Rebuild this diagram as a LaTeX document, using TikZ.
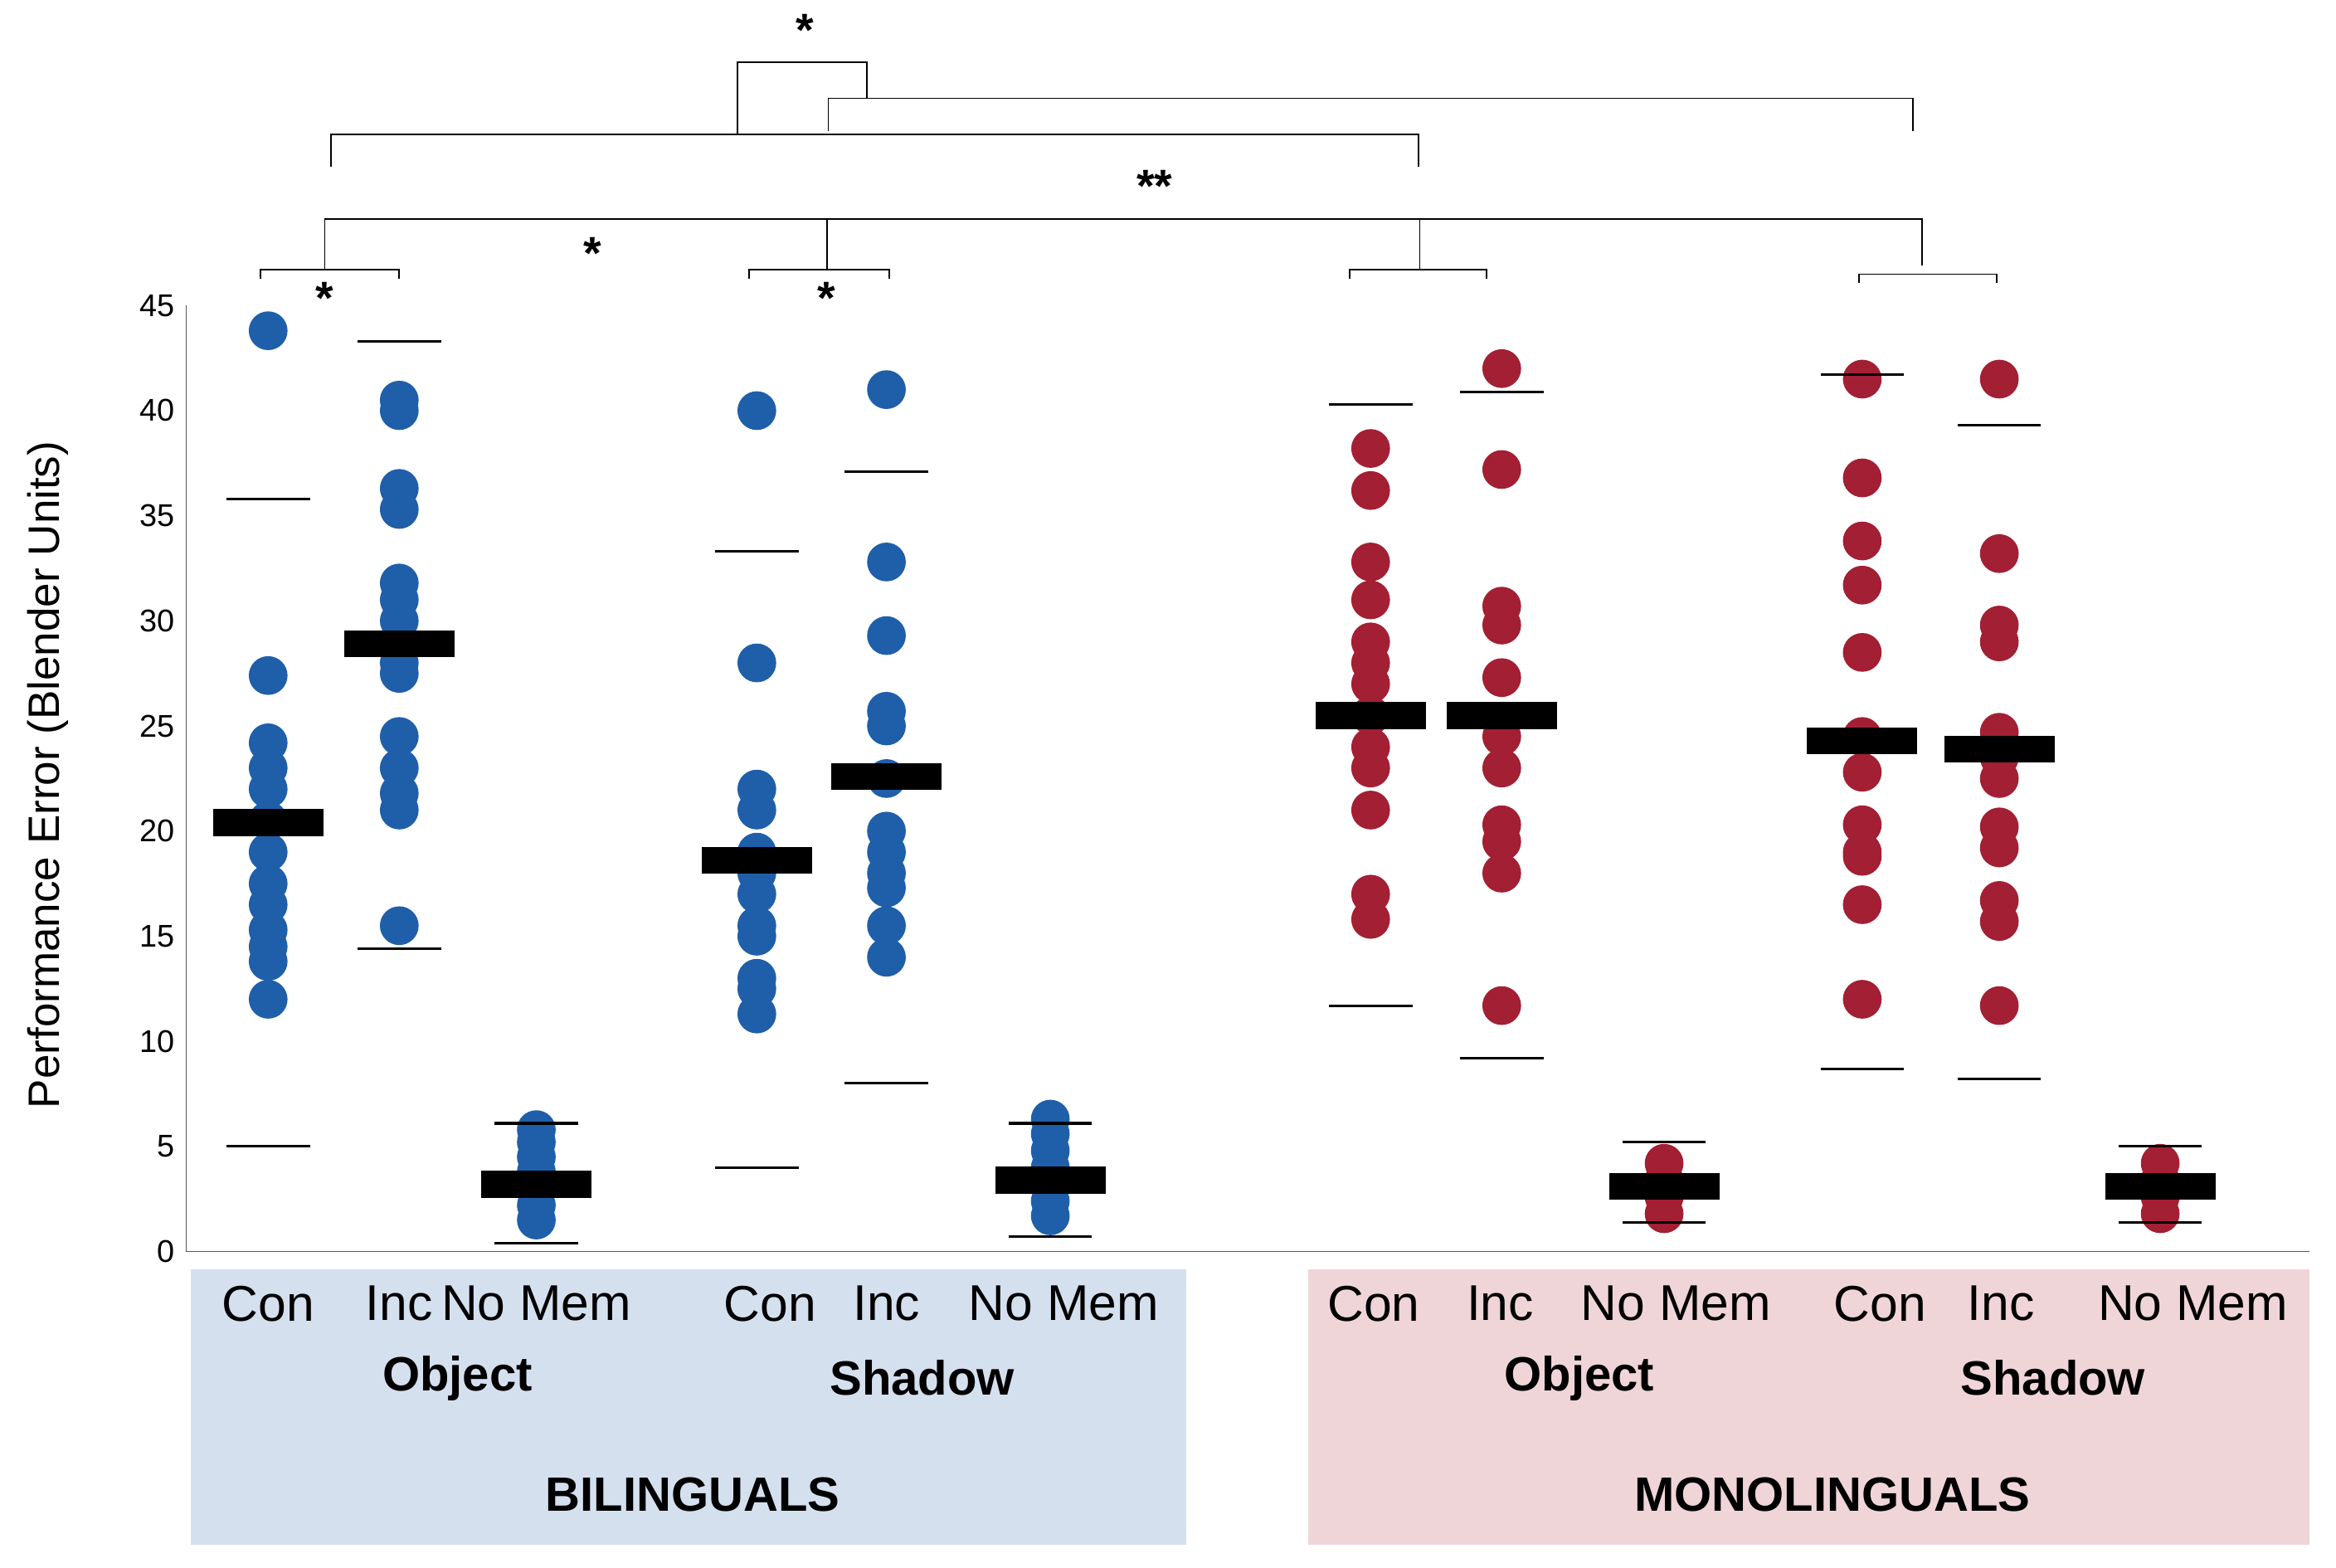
\documentclass[tikz,border=0pt]{standalone}
\usepackage{fontspec}
\setmainfont{Liberation Sans}
\begin{document}
\begin{tikzpicture}[x=0.05cm,y=-0.05cm,
  dot/.style={circle,inner sep=0pt,minimum size=1.3cm},
  br/.style={line width=1.5pt},
  lab/.style={font=\fontsize{48}{48}\selectfont},
  grp/.style={font=\fontsize{46}{46}\selectfont\bfseries},
  tick/.style={font=\fontsize{30}{30}\selectfont,anchor=east}]
\definecolor{bl}{HTML}{1F5FAA}\definecolor{rd}{HTML}{A31F34}
\definecolor{lb}{HTML}{D5E0EF}\definecolor{lp}{HTML}{F0D5D8}
\useasboundingbox (0,0) rectangle (1568,1052);
\def\Y#1{840-14.11*#1}
% bottom panels
\fill[lb] (128,852) rectangle (796,1037);
\fill[lp] (878,852) rectangle (1550,1037);
% axes
\draw[line width=1.2pt,gray!70!black] (125,205) -- (125,840) -- (1550,840);
\foreach \v in {0,5,...,45} \node[tick] at (120,{\Y{\v}}) {\v};
\node[rotate=90,font=\fontsize{42}{42}\selectfont] (yl) at (32,520) {Performance Error (Blender Units)};
% data
\newcommand\col[5]{% x, color, mean, whisk hi/lo as "hi/lo", list
  \foreach \v in {#5} \fill[#2] (#1,{\Y{\v}}) circle (13);
  \fill[black] (#1-37,{\Y{#3}-9}) rectangle (#1+37,{\Y{#3}+9});
  \foreach \w in {#4} \draw[line width=2.5pt] (#1-28,{\Y{\w}}) -- (#1+28,{\Y{\w}});}
\col{180}{bl}{20.4}{35.8,5}{43.8,27.4,24.2,23,22,20.5,19,17.5,16.5,15.3,14.5,13.8,12}
\col{268}{bl}{28.9}{43.3,14.4}{40.5,40,36.3,35.3,31.8,31,30,29,28,27.5,24.5,23,21.8,21,15.5}
\col{360}{bl}{3.2}{6.1,0.4}{1.5,2.2,3,3.8,4.5,5.2,5.8}
\col{508}{bl}{18.6}{33.3,4}{40,28,22,21,19,18,17,15.5,15,13,12.5,11.3}
\col{595}{bl}{22.6}{37.1,8}{41,32.8,29.3,25.7,25,22.5,20,19,18,17.3,15.5,14}
\col{705}{bl}{3.4}{6.1,0.7}{1.7,2.4,3.2,4,4.8,5.6,6.3}
\col{920}{rd}{25.5}{40.3,11.7}{38.2,36.2,32.8,31,29,28,27,25.5,24,23,21,17,15.8}
\col{1008}{rd}{25.5}{40.9,9.2}{42,37.2,30.7,29.8,27.3,24.5,23,20.3,19.5,18,11.7}
\col{1117}{rd}{3.1}{5.2,1.4}{1.8,2.6,3.4,4.2}
\col{1250}{rd}{24.3}{41.7,8.7}{41.5,36.8,33.8,31.7,28.5,24.5,22.8,20.3,19,18.8,16.5,12}
\col{1342}{rd}{23.9}{39.3,8.2}{41.5,33.2,29.8,29,24.7,23.5,22.5,20.2,19.2,16.7,15.7,11.7}
\col{1450}{rd}{3.1}{5,1.4}{1.8,2.6,3.4,4.2}
% brackets
\coordinate (a1) at (175,187); \coordinate (a2) at (268,187);
\draw[br] (a1) |- (221,181) -| (a2);
\coordinate (b1) at (503,187); \coordinate (b2) at (597,187);
\draw[br] (b1) |- (550,181) -| (b2);
\coordinate (c1) at (906,187); \coordinate (c2) at (998,187);
\draw[br] (c1) |- (950,181) -| (c2);
\coordinate (d1) at (1248,190); \coordinate (d2) at (1340,190);
\draw[br] (d1) |- (1294,184) -| (d2);
\coordinate (e1) at (218,181); \coordinate (e2) at (1290,178);
\draw[br] (e1) |- (700,147) -| (e2);
\draw[br] (555,181) -- (555,147); \draw[br] (953,181) -- (953,147);
\coordinate (f1) at (222,112); \coordinate (f2) at (952,112);
\draw[br] (f1) |- (600,90) -| (f2);
\coordinate (g1) at (556,88); \coordinate (g2) at (1284,88);
\draw[br] (g1) |- (900,66) -| (g2);
\draw[br] (495,90) |- (540,42) -| (582,66);
\foreach \x/\y/\s in {218/200/*,555/200/*,398/170/*,775/125/**,540/20/*}
  \node[font=\fontsize{44}{44}\selectfont\bfseries] at (\x,\y) {\s};
% labels
\foreach \x/\t in {180/Con,268/Inc,360/No Mem,517/Con,595/Inc,714/No Mem,922/Con,1007/Inc,1125/No Mem,1262/Con,1343/Inc,1472/No Mem}
  \node[lab] at (\x,875) {\t};
\node[grp] (o1) at (307,925) {Object};
\node[grp] (s1) at (619,925) {Shadow};
\node[grp] (o2) at (1060,925) {Object};
\node[grp] (s2) at (1378,925) {Shadow};
\node[grp] (bi) at (465,1003) {BILINGUALS};
\node[grp] (mo) at (1230,1003) {MONOLINGUALS};
\end{tikzpicture}
\end{document}
